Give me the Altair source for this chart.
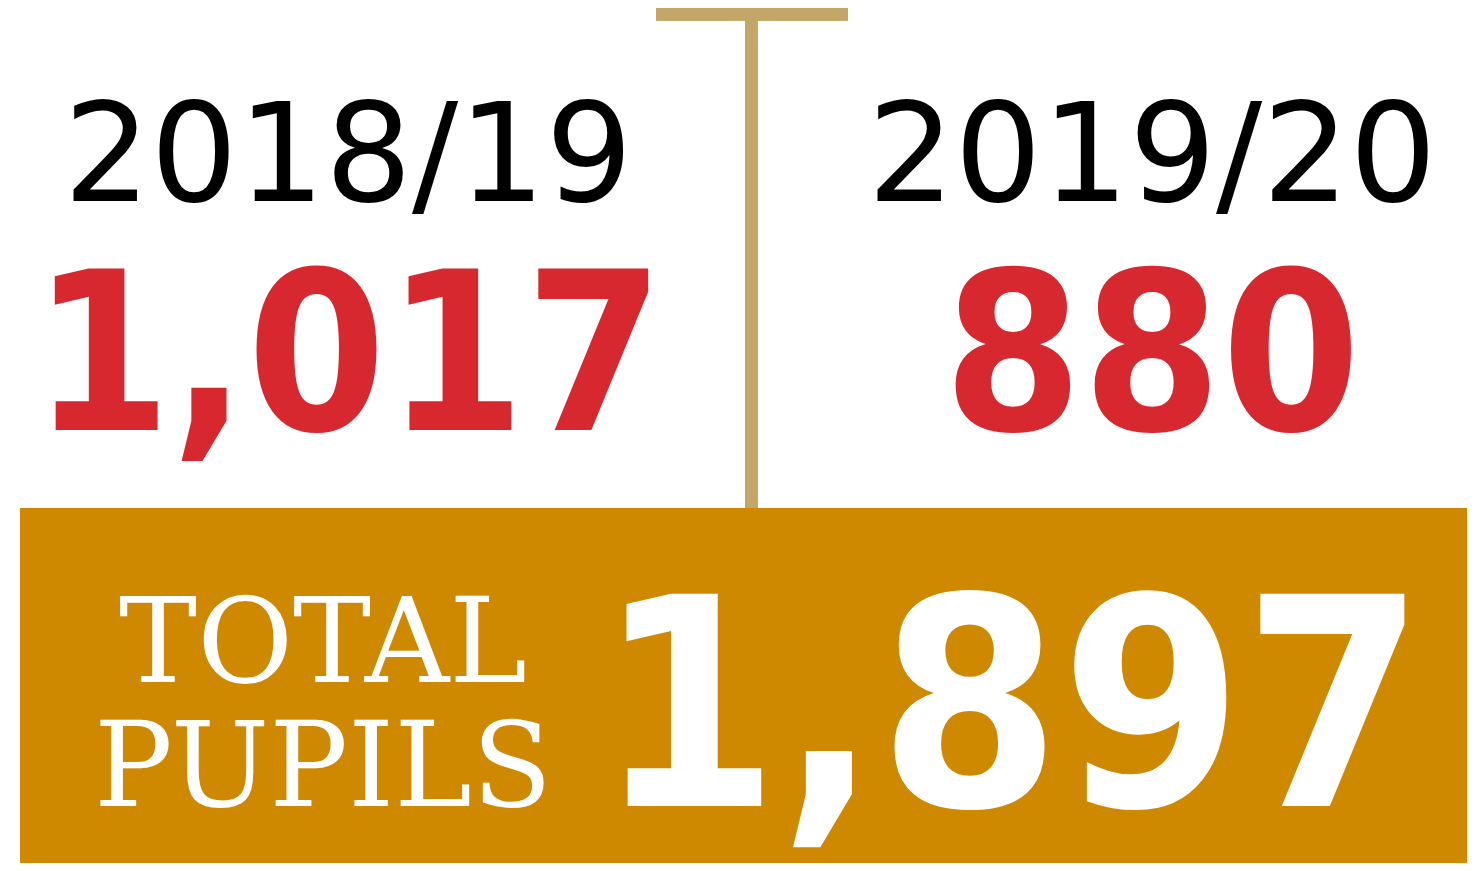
import altair as alt
import pandas as pd

# ---- data ----
years = ["2018/19", "2019/20"]
pupils = [1017, 880]
total_label = ["TOTAL", "PUPILS"]
total_value = [1897]

# ---- layout (reference pixel space) ----
W, H = 1459, 855
col_centers = [348, 1152]
XS = alt.Scale(domain=[8, 8 + W])
YS = alt.Scale(domain=[8, 8 + H], reverse=True)

RED = "#D7282F"
GOLD = "#CE8900"
TAN = "#C4A768"
NUMFONT = "DejaVu Sans Condensed, DejaVu Sans"


def X(v):
    return alt.XDatum(v, scale=XS, axis=None, type="quantitative")


def X2(v):
    return alt.X2Datum(v)


def Y(v):
    return alt.YDatum(v, scale=YS, axis=None, type="quantitative")


def Y2(v):
    return alt.Y2Datum(v)


one = pd.DataFrame({"k": [0]})

box = alt.Chart(one).mark_rect(color=GOLD, clip=True).encode(
    x=X(20), x2=X2(1490), y=Y(508), y2=Y2(880)
)
tbar = alt.Chart(one).mark_rect(color=TAN).encode(
    x=X(656), x2=X2(848), y=Y(8), y2=Y2(21)
)
stem = alt.Chart(one).mark_rect(color=TAN).encode(
    x=X(745), x2=X2(758), y=Y(21), y2=Y2(508)
)

cols = pd.DataFrame({
    "year": years,
    "pupils": [f"{v:,}" for v in pupils],
    "cx": col_centers,
})

year_text = alt.Chart(cols).mark_text(
    font="DejaVu Sans", fontSize=137, fontWeight=400, color="#000000",
    align="center", baseline="alphabetic"
).encode(
    x=alt.X("cx:Q", scale=XS, axis=None),
    y=Y(201),
    text="year:N",
)

num_text = alt.Chart(cols).mark_text(
    font=NUMFONT, fontSize=222, fontWeight="bold", color=RED,
    align="center", baseline="alphabetic"
).encode(
    x=alt.X("cx:Q", scale=XS, axis=None),
    y=Y(430),
    text="pupils:N",
)

lab = pd.DataFrame({"t": total_label, "by": [682, 806]})
label_text = alt.Chart(lab).mark_text(
    font="DejaVu Serif", fontSize=117, color="#FFFFFF",
    align="center", baseline="alphabetic"
).encode(
    x=X(323),
    y=alt.Y("by:Q", scale=YS, axis=None),
    text="t:N",
)

tot = pd.DataFrame({"v": [f"{v:,}" for v in total_value]})
total_text = alt.Chart(tot).mark_text(
    font=NUMFONT, fontSize=291, fontWeight="bold", color="#FFFFFF",
    align="center", baseline="alphabetic"
).encode(
    x=X(1011),
    y=Y(806),
    text="v:N",
)

chart = alt.layer(
    box, tbar, stem, year_text, num_text, label_text, total_text
).properties(
    width=W, height=H, padding=0, autosize=alt.AutoSizeParams(type="none"),
    background="#FFFFFF",
).configure_view(stroke=None)

chart.save("out.html", embed_options={"renderer": "svg", "actions": False})
